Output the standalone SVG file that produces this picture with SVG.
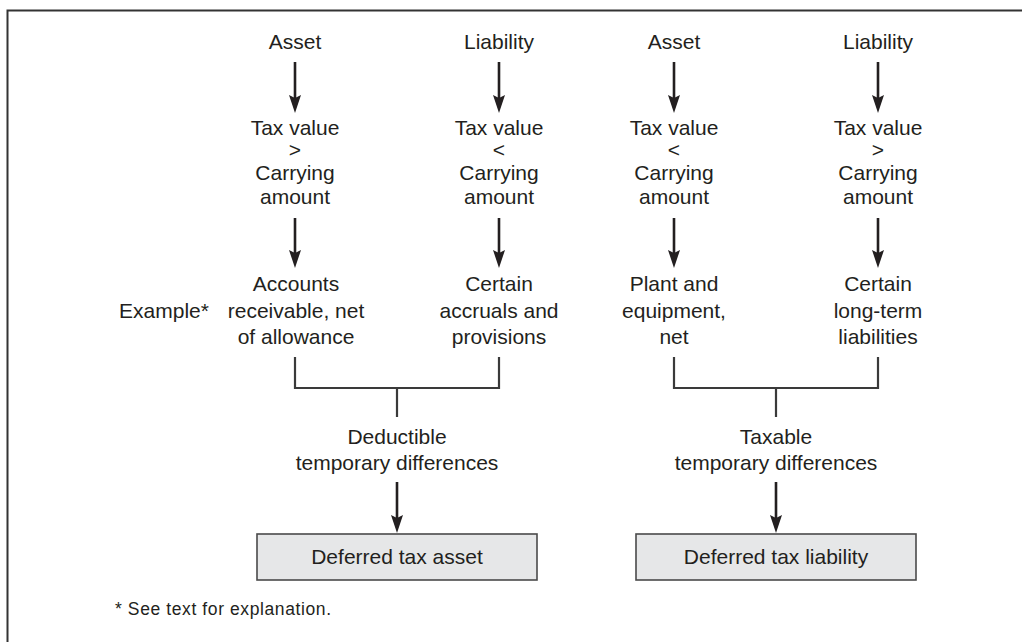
<svg xmlns="http://www.w3.org/2000/svg" width="1022" height="642" viewBox="0 0 1022 642">
<style>
text{font-family:"Liberation Sans",Arial,sans-serif;font-size:21px;fill:#231f20;text-anchor:middle}
.foot{font-size:17.5px;text-anchor:start;letter-spacing:0.6px}
.arr{stroke:#231f20;stroke-width:2.6;fill:none}
.br{stroke:#3a3a3a;stroke-width:2.2;fill:none}
.box{fill:#e6e7e8;stroke:#4a4a4a;stroke-width:1.6}
</style>
<defs>
<path id="ah" d="M-6,-18 L0,-15 L6,-18 L0,0 Z" fill="#231f20"/>
</defs>
<rect width="1022" height="642" fill="#fff"/>
<path d="M7.5,642 V10.5 H1022" fill="none" stroke="#333" stroke-width="2"/>

<g id="connectors">
<g id="arrows-top">
<path class="arr" d="M295,62 V100"/><use href="#ah" x="295" y="113"/>
<path class="arr" d="M499,62 V100"/><use href="#ah" x="499" y="113"/>
<path class="arr" d="M674,62 V100"/><use href="#ah" x="674" y="113"/>
<path class="arr" d="M878,62 V100"/><use href="#ah" x="878" y="113"/>
</g>
<g id="arrows-mid">
<path class="arr" d="M295,218 V255"/><use href="#ah" x="295" y="268"/>
<path class="arr" d="M499,218 V255"/><use href="#ah" x="499" y="268"/>
<path class="arr" d="M674,218 V255"/><use href="#ah" x="674" y="268"/>
<path class="arr" d="M878,218 V255"/><use href="#ah" x="878" y="268"/>
</g>
<g id="brackets">
<path class="br" d="M295,357 V388 H499 V357 M397,388 V417"/>
<path class="br" d="M674,357 V388 H878 V357 M776,388 V417"/>
</g>
<g id="arrows-bottom">
<path class="arr" d="M397,482 V520"/><use href="#ah" x="397" y="533"/>
<path class="arr" d="M776,482 V520"/><use href="#ah" x="776" y="533"/>
</g>
</g>

<g id="asset-left"><text x="295" y="49">Asset</text></g>
<g id="liability-left"><text x="499" y="49">Liability</text></g>
<g id="asset-right"><text x="674" y="49">Asset</text></g>
<g id="liability-right"><text x="878" y="49">Liability</text></g>

<g id="cond1"><text x="295" y="135">Tax value</text><text x="295" y="157">&gt;</text><text x="295" y="180">Carrying</text><text x="295" y="204">amount</text></g>
<g id="cond2"><text x="499" y="135">Tax value</text><text x="499" y="157">&lt;</text><text x="499" y="180">Carrying</text><text x="499" y="204">amount</text></g>
<g id="cond3"><text x="674" y="135">Tax value</text><text x="674" y="157">&lt;</text><text x="674" y="180">Carrying</text><text x="674" y="204">amount</text></g>
<g id="cond4"><text x="878" y="135">Tax value</text><text x="878" y="157">&gt;</text><text x="878" y="180">Carrying</text><text x="878" y="204">amount</text></g>

<g id="example-label"><text x="164" y="318">Example*</text></g>
<g id="ex1"><text x="296" y="291">Accounts</text><text x="296" y="318">receivable, net</text><text x="296" y="344">of allowance</text></g>
<g id="ex2"><text x="499" y="291">Certain</text><text x="499" y="318">accruals and</text><text x="499" y="344">provisions</text></g>
<g id="ex3"><text x="674" y="291">Plant and</text><text x="674" y="318">equipment,</text><text x="674" y="344">net</text></g>
<g id="ex4"><text x="878" y="291">Certain</text><text x="878" y="318">long-term</text><text x="878" y="344">liabilities</text></g>

<g id="deductible"><text x="397" y="444">Deductible</text><text x="397" y="470">temporary differences</text></g>
<g id="taxable"><text x="776" y="444">Taxable</text><text x="776" y="470">temporary differences</text></g>

<g id="dta"><rect class="box" x="257" y="534" width="280" height="46"/><text x="397" y="564">Deferred tax asset</text></g>
<g id="dtl"><rect class="box" x="636" y="534" width="280" height="46"/><text x="776" y="564">Deferred tax liability</text></g>

<g id="footnote"><text class="foot" x="115" y="615">* See text for explanation.</text></g>
</svg>
